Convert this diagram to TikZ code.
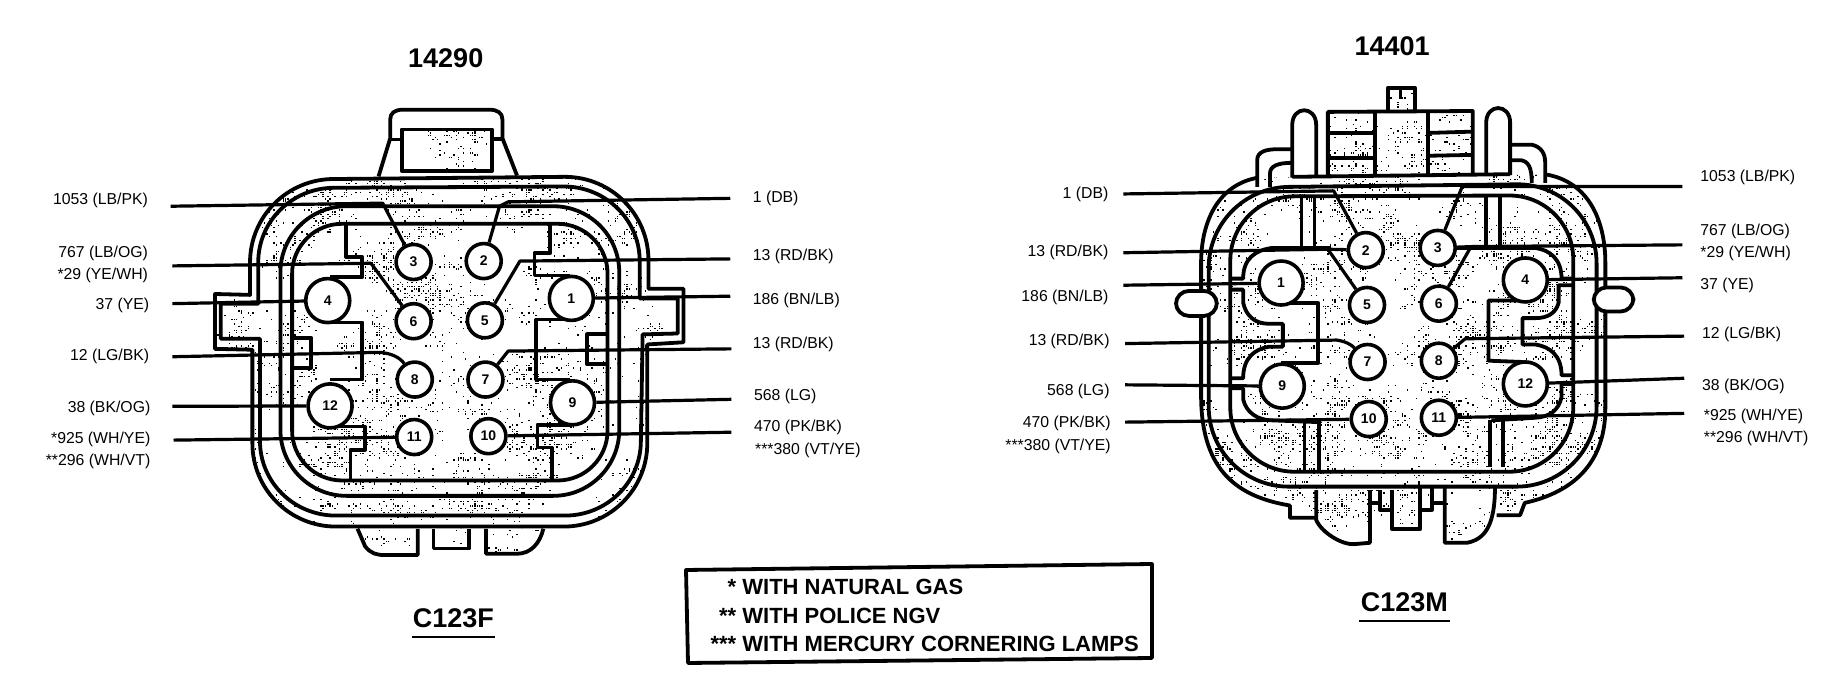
\documentclass[tikz,border=0pt]{standalone}
\usepackage{fontspec}
\setmainfont{Liberation Sans}
\tikzset{
 hull/.style={draw=black,line width=1.9pt,line join=round},
 wire/.style={draw=black,line width=1.6pt,line join=round},
 pinsm/.style={circle,draw=black,fill=white,line width=1.8pt,minimum size=17.5pt,inner sep=0pt,font=\bfseries\fontsize{7}{7}\selectfont},
 pinlg/.style={pinsm,minimum size=22pt},
 lab/.style={inner sep=0pt,font=\fontsize{7.9}{9}\selectfont},
 labl/.style={lab,anchor=west},
 labr/.style={lab,anchor=east},
 ttl/.style={inner sep=0pt,font=\bfseries\fontsize{13.5}{15}\selectfont},
 note/.style={inner sep=0pt,anchor=base west,font=\bfseries\fontsize{11}{13}\selectfont},
 zl/.style={x=.2921pt,y=-.2194pt},
 zr/.style={xshift=458pt,x=.2921pt,y=-.2194pt}
}
\newcommand{\stipdots}[6]{%
 \foreach \c in {1,...,#5}{%
  \pgfmathsetmacro\cxx{#1+rnd*#3}%
  \pgfmathsetmacro\cyy{#2+rnd*#4}%
  \foreach \d in {1,...,#6}{%
   \pgfmathsetmacro\dxx{4*round((\cxx+55*rand*rnd)/4)}%
   \pgfmathsetmacro\dyy{5*round((\cyy+55*rand*rnd)/5)}%
   \fill (\dxx,\dyy) rectangle +(.7pt,.7pt);
  }%
 }%
}
\begin{document}
\begin{tikzpicture}[x=.5pt,y=-.5pt]
\useasboundingbox (0,0) rectangle (1832,688);
\pgfmathsetseed{4711}
%% ---------- LEFT CONNECTOR ----------
\begin{scope}[zl]
 % tab
 \draw[hull] (648,402) -- (668,315) -- (668,272) .. controls (668,258) and (675,250) .. (690,250) -- (838,250) .. controls (852,250) and (860,258) .. (860,272) -- (860,315) -- (885,400);
 \draw[hull] (688,295) rectangle (842,390);
 \draw[hull] (668,318) -- (688,318) (842,316) -- (860,316);
 % lobes
 \draw[hull] (612,1205) -- (625,1245) .. controls (635,1262) and (645,1265) .. (660,1265) -- (715,1265) -- (715,1205);
 \draw[hull] (742,1205) -- (742,1250) -- (803,1250) -- (803,1205);
 \draw[hull] (832,1205) -- (832,1262) -- (885,1262) .. controls (910,1262) and (925,1235) .. (930,1205);
 % stipple
 \begin{scope}
  \clip (688,295) rectangle (842,390);
  \stipdots{688}{295}{154}{95}{6}{14}
 \end{scope}
 \begin{scope}
  \clip (612,1205) -- (625,1245) -- (660,1265) -- (715,1265) -- (715,1205) -- cycle
        (742,1205) rectangle (803,1250)
        (832,1205) -- (832,1262) -- (885,1262) -- (930,1205) -- cycle;
  \stipdots{612}{1205}{320}{60}{9}{10}
 \end{scope}
 \begin{scope}
  \clip (428,672) -- (428,598) .. controls (428,493) and (492,408) .. (571,408) -- (967,403) .. controls (1046,403) and (1110,488) .. (1110,593) -- (1110,658) -- (1170,658) -- (1170,780) -- (1108,785) -- (1108,1010) .. controls (1108,1115) and (1044,1200) .. (965,1200) -- (575,1200) .. controls (496,1200) and (432,1115) .. (432,1010) -- (432,797) -- (368,795) -- (368,670) -- cycle;
  \stipdots{368}{405}{800}{790}{190}{20}
 \end{scope}
 % walls
 \draw[hull] (428,672) -- (428,598) .. controls (428,493) and (492,408) .. (571,408) -- (967,403) .. controls (1046,403) and (1110,488) .. (1110,593) -- (1110,658) -- (1170,658) -- (1170,780) -- (1108,785) -- (1108,1010) .. controls (1108,1115) and (1044,1200) .. (965,1200) -- (575,1200) .. controls (496,1200) and (432,1115) .. (432,1010) -- (432,797) -- (368,795) -- (368,670) -- cycle;
 \draw[hull] (442,692) -- (442,598) .. controls (442,504) and (500,428) .. (572,428) -- (965,425) .. controls (1037,425) and (1095,501) .. (1095,595) -- (1095,680) -- (1160,680) -- (1160,760) -- (1100,762) -- (1097,1005) .. controls (1097,1099) and (1039,1175) .. (967,1175) -- (575,1175) .. controls (503,1175) and (445,1099) .. (445,1005) -- (445,772) -- (378,772) -- (378,692) -- cycle;
 \draw[hull,rounded corners=33pt] (480,470) -- (1060,470) -- (1060,1130) -- (480,1130) -- cycle;
 \draw[hull,rounded corners=25pt] (500,510) -- (1040,510) -- (1040,1095) -- (500,1095) -- cycle;
 \draw[hull] (592,512) -- (592,585) -- (620,585) -- (620,632) -- (565,632);
 \draw[hull] (565,735) -- (620,735) -- (620,865) -- (565,865);
 \draw[hull] (565,972) -- (625,972) -- (625,1025) -- (600,1025) -- (600,1095);
 \draw[hull] (503,770) -- (533,770) -- (533,838) -- (503,838);
 \draw[hull] (942,510) -- (942,577) -- (915,577) -- (915,628) -- (975,628);
 \draw[hull] (975,728) -- (918,728) -- (918,865) -- (975,865);
 \draw[hull] (975,968) -- (920,968) -- (920,1020) -- (945,1020) -- (945,1092);
 \draw[hull] (1037,762) -- (1005,762) -- (1005,830) -- (1037,830);
 % pins
 \node[pinsm] (a3) at (708,597) {3};
 \node[pinsm] (a2) at (828,595) {2};
 \node[pinsm] (a6) at (708,732) {6};
 \node[pinsm] (a5) at (830,730) {5};
 \node[pinsm] (a8) at (710,865) {8};
 \node[pinsm] (a7) at (831,865) {7};
 \node[pinsm] (a11) at (709,996) {11};
 \node[pinsm] (a10) at (836,994) {10};
 \node[pinlg] (a4) at (561,685) {4};
 \node[pinlg] (a1) at (978,680) {1};
 \node[pinlg] (a12) at (565,925) {12};
 \node[pinlg] (a9) at (980,918) {9};
 % labels
 \node[labr] (ta3) at (254,456) {1053 (LB/PK)};
 \node[labr] (ta6) at (254,577) {767 (LB/OG)};
 \node[labr] (ta6b) at (254,628) {*29 (YE/WH)};
 \node[labr] (ta4) at (256,697) {37 (YE)};
 \node[labr] (ta8) at (256,812) {12 (LG/BK)};
 \node[labr] (ta12) at (258,930) {38 (BK/OG)};
 \node[labr] (ta11) at (258,1002) {*925 (WH/YE)};
 \node[labr] (ta11b) at (258,1052) {**296 (WH/VT)};
 \node[labl] (ta2) at (1288,452) {1 (DB)};
 \node[labl] (ta5) at (1288,584) {13 (RD/BK)};
 \node[labl] (ta1) at (1288,685) {186 (BN/LB)};
 \node[labl] (ta7) at (1288,786) {13 (RD/BK)};
 \node[labl] (ta9) at (1290,903) {568 (LG)};
 \node[labl] (ta10) at (1290,974) {470 (PK/BK)};
 \node[labl] (ta10b) at (1292,1026) {***380 (VT/YE)};
 % free wire ends
 \coordinate (wa3) at (292,470);
 \coordinate (wa6) at (295,606);
 \coordinate (wa4) at (295,692);
 \coordinate (wa8) at (295,813);
 \coordinate (wa12) at (295,926);
 \coordinate (wa11) at (297,1003);
 \coordinate (wa2) at (1250,452);
 \coordinate (wa5) at (1250,590);
 \coordinate (wa1) at (1250,675);
 \coordinate (wa7) at (1252,795);
 \coordinate (wa9) at (1252,910);
 \coordinate (wa10) at (1252,985);
 % wires
 \draw[wire] (wa3) -- (655,463) -- (a3);
 \draw[wire] (wa6) -- (635,600) -- (a6);
 \draw[wire] (wa4) -- (a4);
 \draw[wire] (wa8) -- (650,803) .. controls (670,805) and (685,815) .. (a8);
 \draw[wire] (wa12) -- (a12);
 \draw[wire] (wa11) -- (a11);
 \draw[wire] (wa2) -- (870,460) -- (855,470) -- (a2);
 \draw[wire] (wa5) -- (890,595) -- (a5);
 \draw[wire] (wa1) -- (a1);
 \draw[wire] (wa7) -- (870,800) -- (a7);
 \draw[wire] (wa9) -- (a9);
 \draw[wire] (wa10) -- (a10);
 % title
 \node[ttl] (tl) at (763,132) {14290};
 \node[ttl] (cl) at (776,1410) {C123F};
 \draw[line width=1.3pt] (705,1452) -- (847,1452);
\end{scope}
%% ---------- RIGHT CONNECTOR ----------
\begin{scope}[zr]
 % top block
 \draw[hull] (808,251) -- (808,200) -- (854,200) -- (854,251);
 \draw[line width=1.4pt] (830,205) -- (830,226);
 \draw[hull] (705,403) -- (705,255) -- (953,253) -- (953,399);
 \draw[hull] (786,255) -- (786,401) (876,253) -- (876,399);
 \draw[hull] (705,303) -- (786,303) (705,360) -- (786,360);
 \draw[hull] (876,303) -- (953,300) (876,355) -- (953,353);
 \begin{scope}
  \clip (705,255) rectangle (953,400);
  \stipdots{705}{255}{248}{145}{18}{13}
 \end{scope}
 \begin{scope}
  \clip (808,200) rectangle (854,251);
  \stipdots{830}{205}{20}{40}{2}{8}
 \end{scope}
 % lobes
 \draw[hull] (685,1117) -- (685,1185) .. controls (695,1215) and (730,1242) .. (750,1240) -- (777,1237) -- (777,1117);
 \draw[hull] (905,1112) -- (905,1237) -- (943,1237) .. controls (970,1230) and (991,1205) .. (991,1112);
 \draw[hull] (815,1117) -- (815,1206) -- (863,1206) -- (863,1112);
 \draw[hull] (794,1117) -- (794,1162) -- (815,1162) (863,1162) -- (883,1162) -- (883,1112);
 \draw[hull] (777,1146) -- (794,1146) (883,1146) -- (905,1146);
 \begin{scope}
  \clip (685,1117) -- (685,1185) -- (730,1242) -- (777,1237) -- (777,1117) -- cycle
   (905,1112) -- (905,1237) -- (943,1237) -- (991,1180) -- (991,1112) -- cycle
   (815,1117) rectangle (863,1206);
  \stipdots{685}{1112}{306}{125}{16}{14}
 \end{scope}
 % body stipple
 \begin{scope}
  \clip (640,1152) .. controls (540,1130) and (488,1060) .. (488,900) -- (488,600) .. controls (488,500) and (520,420) .. (585,405) -- (1080,398) .. controls (1150,415) and (1180,500) .. (1180,600) -- (1180,930) .. controls (1180,1050) and (1130,1120) .. (1042,1146) -- (1034,1174) -- (994,1174) -- (683,1180) -- (640,1180) -- cycle;
  \stipdots{488}{398}{690}{780}{190}{20}
 \end{scope}
 % pegs and brackets
 \draw[hull,fill=white] (584,426) -- (584,365) .. controls (584,345) and (600,340) .. (620,340) -- (644,340);
 \draw[hull] (606,426) -- (606,395) .. controls (606,378) and (620,371) .. (644,371);
 \draw[hull] (1017,330) -- (1055,330) .. controls (1070,335) and (1077,350) .. (1077,370) -- (1077,417);
 \draw[hull] (1019,365) -- (1035,365) .. controls (1048,368) and (1054,380) .. (1054,417);
 \draw[hull,fill=white] (644,405) -- (644,285) .. controls (644,240) and (685,240) .. (685,285) -- (685,405);
 \draw[hull,fill=white] (976,399) -- (976,280) .. controls (976,235) and (1017,235) .. (1017,280) -- (1017,399);
 \draw[hull] (644,403) -- (1017,397);
 % body outline
 \draw[hull] (683,1180) -- (640,1180) -- (640,1152) .. controls (540,1130) and (488,1060) .. (488,900) -- (488,600) .. controls (488,500) and (520,420) .. (585,405);
 \draw[hull] (1080,398) .. controls (1150,415) and (1180,500) .. (1180,600) -- (1180,930) .. controls (1180,1050) and (1130,1120) .. (1042,1146) -- (1034,1174) -- (994,1174);
 \draw[hull,rounded corners=40pt] (501,428) -- (1165,418) -- (1165,1109) -- (501,1109) -- cycle;
 \draw[hull,rounded corners=32pt] (538,448) -- (1125,445) -- (1125,1075) -- (538,1075) -- cycle;
 % side pills
 \draw[hull,fill=white,rounded corners=6.5pt] (445,663) rectangle (515,720);
 \draw[hull,fill=white,rounded corners=6.5pt] (1160,655) rectangle (1228,710);
 % inner walls
 \draw[hull] (660,450) -- (660,565) (682,448) -- (682,565);
 \draw[hull] (665,960) -- (665,1075) (690,960) -- (690,1075);
 \draw[hull] (976,445) -- (976,562) (1000,445) -- (1000,562);
 \draw[hull] (983,958) -- (983,1065) (1005,955) -- (1005,1065);
 \draw[hull] (710,565) -- (610,565) .. controls (580,570) and (560,590) .. (560,635) -- (540,635);
 \draw[hull] (540,660) -- (560,660) -- (560,690) .. controls (565,720) and (580,738) .. (605,738) -- (628,738) -- (628,790) -- (605,790) .. controls (580,795) and (560,815) .. (560,862) -- (540,862);
 \draw[hull] (540,885) -- (560,885) -- (560,910) .. controls (565,940) and (585,958) .. (610,958) -- (690,962);
 \draw[hull] (625,690) -- (688,690) -- (688,828) -- (625,828);
 \draw[hull] (925,565) -- (1060,565) .. controls (1085,570) and (1105,590) .. (1105,635) -- (1125,635);
 \draw[hull] (1125,650) -- (1100,650) -- (1100,690) .. controls (1095,715) and (1080,725) .. (1060,725) -- (1038,725) -- (1038,785) -- (1060,785) .. controls (1085,790) and (1105,810) .. (1105,855) -- (1125,855);
 \draw[hull] (1125,875) -- (1105,875) -- (1105,905) .. controls (1100,935) and (1085,950) .. (1060,952) -- (985,958);
 \draw[hull] (1040,685) -- (980,685) -- (980,822) -- (1040,825);
 % pins
 \node[pinsm] (b2) at (770,570) {2};
 \node[pinsm] (b3) at (893,565) {3};
 \node[pinsm] (b5) at (772,695) {5};
 \node[pinsm] (b6) at (895,692) {6};
 \node[pinsm] (b7) at (773,825) {7};
 \node[pinsm] (b8) at (895,822) {8};
 \node[pinsm] (b10) at (775,955) {10};
 \node[pinsm] (b11) at (895,952) {11};
 \node[pinlg] (b1) at (625,645) {1};
 \node[pinlg] (b4) at (1043,638) {4};
 \node[pinlg] (b9) at (627,880) {9};
 \node[pinlg] (b12) at (1043,875) {12};
 % labels
 \node[labr] (tb2) at (330,442) {1 (DB)};
 \node[labr] (tb5) at (330,576) {13 (RD/BK)};
 \node[labr] (tb1) at (330,677) {186 (BN/LB)};
 \node[labr] (tb7) at (332,777) {13 (RD/BK)};
 \node[labr] (tb9) at (332,893) {568 (LG)};
 \node[labr] (tb10) at (334,965) {470 (PK/BK)};
 \node[labr] (tb10b) at (334,1018) {***380 (VT/YE)};
 \node[labl] (tb3) at (1342,405) {1053 (LB/PK)};
 \node[labl] (tb6) at (1342,527) {767 (LB/OG)};
 \node[labl] (tb6b) at (1342,578) {*29 (YE/WH)};
 \node[labl] (tb4) at (1342,650) {37 (YE)};
 \node[labl] (tb8) at (1345,763) {12 (LG/BK)};
 \node[labl] (tb12) at (1345,880) {38 (BK/OG)};
 \node[labl] (tb11) at (1348,950) {*925 (WH/YE)};
 \node[labl] (tb11b) at (1348,1000) {**296 (WH/VT)};
 % free wire ends
 \coordinate (wb2) at (355,442);
 \coordinate (wb5) at (355,576);
 \coordinate (wb1) at (355,650);
 \coordinate (wb7) at (358,783);
 \coordinate (wb9) at (358,877);
 \coordinate (wb10) at (358,962);
 \coordinate (wb3) at (1312,425);
 \coordinate (wb6) at (1312,558);
 \coordinate (wb4) at (1312,633);
 \coordinate (wb8) at (1315,766);
 \coordinate (wb12) at (1315,862);
 \coordinate (wb11) at (1315,942);
 % wires
 \draw[wire] (wb2) -- (715,435) -- (b2);
 \draw[wire] (wb5) -- (705,568) -- (b5);
 \draw[wire] (705,568) -- (b2);
 \draw[wire] (wb1) -- (b1);
 \draw[wire] (wb7) -- (720,775) .. controls (735,778) and (745,785) .. (b7);
 \draw[wire] (wb9) -- (b9);
 \draw[wire] (wb10) -- (b10);
 \draw[wire] (wb3) -- (935,425) -- (b3);
 \draw[wire] (wb6) -- (950,562) -- (b6);
 \draw[wire] (950,562) -- (b3);
 \draw[wire] (wb4) -- (b4);
 \draw[wire] (wb8) -- (940,772) -- (b8);
 \draw[wire] (wb12) -- (b12);
 \draw[wire] (wb11) -- (b11);
 % title
 \node[ttl] (tr) at (815,105) {14401};
 \node[ttl] (cr) at (836,1373) {C123M};
 \draw[line width=1.3pt] (758,1415) -- (914,1415);
\end{scope}
%% ---------- NOTE BOX ----------
\draw[hull] (686,570) -- (1152,564) -- (1152,658) -- (688,663) -- cycle;
\node[note] (n1) at (742,595) {\llap{* }WITH NATURAL GAS};
\node[note] (n2) at (742,624) {\llap{** }WITH POLICE NGV};
\node[note] (n3) at (742,652) {\llap{*** }WITH MERCURY CORNERING LAMPS};
\end{tikzpicture}
\end{document}
